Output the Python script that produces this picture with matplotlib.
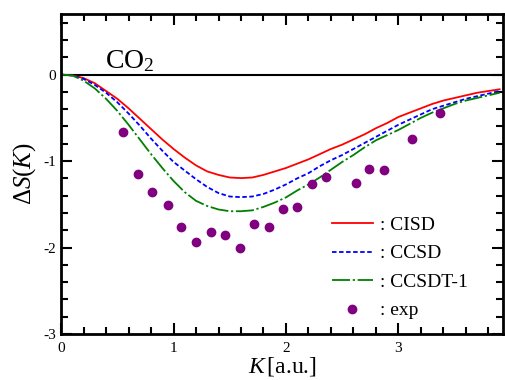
import numpy as np
import matplotlib.pyplot as plt
from matplotlib.ticker import MultipleLocator

plt.rcParams['font.family'] = ['Liberation Serif', 'DejaVu Serif']
plt.rcParams['mathtext.fontset'] = 'custom'
plt.rcParams['mathtext.rm'] = 'Liberation Serif'
plt.rcParams['mathtext.it'] = 'Liberation Serif:italic'

# K grid [a.u.]
k = np.arange(0, 4.0, 0.1)

# CISD
cisd = [0, -0.01, -0.04, -0.10, -0.19, -0.28, -0.39, -0.51, -0.63, -0.75,
        -0.86, -0.96, -1.05, -1.12, -1.16, -1.19, -1.197, -1.19, -1.16, -1.12,
        -1.08, -1.03, -0.98, -0.92, -0.86, -0.81, -0.75, -0.69, -0.62, -0.56,
        -0.49, -0.44, -0.39, -0.34, -0.30, -0.27, -0.24, -0.21, -0.19, -0.17]
# CCSD
ccsd = [0, -0.01, -0.05, -0.12, -0.21, -0.32, -0.45, -0.59, -0.74, -0.88,
        -1.01, -1.11, -1.21, -1.30, -1.37, -1.41, -1.417, -1.41, -1.38, -1.33,
        -1.27, -1.20, -1.14, -1.06, -0.99, -0.93, -0.86, -0.79, -0.72, -0.65,
        -0.58, -0.52, -0.46, -0.40, -0.36, -0.32, -0.28, -0.25, -0.22, -0.19]
# CCSDT-1
ccsdt = [0, -0.01, -0.07, -0.16, -0.28, -0.42, -0.58, -0.75, -0.92, -1.08,
         -1.23, -1.36, -1.46, -1.52, -1.56, -1.58, -1.58, -1.57, -1.53, -1.48,
         -1.42, -1.34, -1.27, -1.19, -1.10, -1.01, -0.93, -0.84, -0.76, -0.70,
         -0.64, -0.57, -0.50, -0.44, -0.39, -0.34, -0.30, -0.27, -0.24, -0.21]

# experiment
k_exp = [0.55, 0.68, 0.81, 0.95, 1.07, 1.20, 1.33, 1.46, 1.59, 1.72, 1.85,
         1.97, 2.10, 2.23, 2.36, 2.62, 2.74, 2.87, 3.12, 3.37]
s_exp = [-0.66, -1.15, -1.36, -1.51, -1.76, -1.94, -1.82, -1.86, -2.01, -1.73, -1.76,
         -1.55, -1.53, -1.26, -1.18, -1.25, -1.09, -1.10, -0.74, -0.44]

fig = plt.figure(figsize=(5.05, 3.8), dpi=100)
ax = fig.add_axes([0.121, 0.121, 0.875, 0.842])

ax.axhline(0, color='black', lw=1.5)
ax.plot(k, cisd, color='red', lw=1.3, label=': CISD')
ax.plot(k, ccsd, color='blue', lw=1.3, ls=(0, (2.5, 1.4)), label=': CCSD')
ax.plot(k, ccsdt, color='green', lw=1.3, ls=(0, (10, 1.5, 1.2, 1.5)), label=': CCSDT-1')
ax.plot(k_exp, s_exp, 'o', color='purple', ms=6, label=': exp')

ax.set_xlim(0, 3.93)
ax.set_ylim(-3, 0.7)
ax.xaxis.set_major_locator(MultipleLocator(1))
ax.xaxis.set_minor_locator(MultipleLocator(0.2))
ax.yaxis.set_major_locator(MultipleLocator(1))
ax.yaxis.set_minor_locator(MultipleLocator(0.2))
ax.xaxis.set_major_formatter(lambda v, p: f"{v:.0f}")
ax.yaxis.set_major_formatter(lambda v, p: f"{v:.0f}")
ax.tick_params(which='both', direction='in', top=True, right=True, width=1.5, labelsize=11)
ax.tick_params(which='major', length=8)
ax.tick_params(which='minor', length=5)
ax.tick_params(axis='x', pad=6)
for s in ax.spines.values():
    s.set_linewidth(2)

ax.set_xlabel('$K\\,$[a.u.]', fontsize=17, labelpad=0)
ax.set_ylabel('$\\Delta S(K)$', fontsize=18, labelpad=4)
ax.text(0.1, 0.83, 'CO$_2$', transform=ax.transAxes, fontsize=20)

ax.legend(loc='upper left', bbox_to_anchor=(0.612, 0.368), frameon=False,
          fontsize=14, handlelength=2.15, handletextpad=0.35, labelspacing=0.56,
          borderpad=0, borderaxespad=0, numpoints=1)

fig.savefig('out.png', dpi=100)
